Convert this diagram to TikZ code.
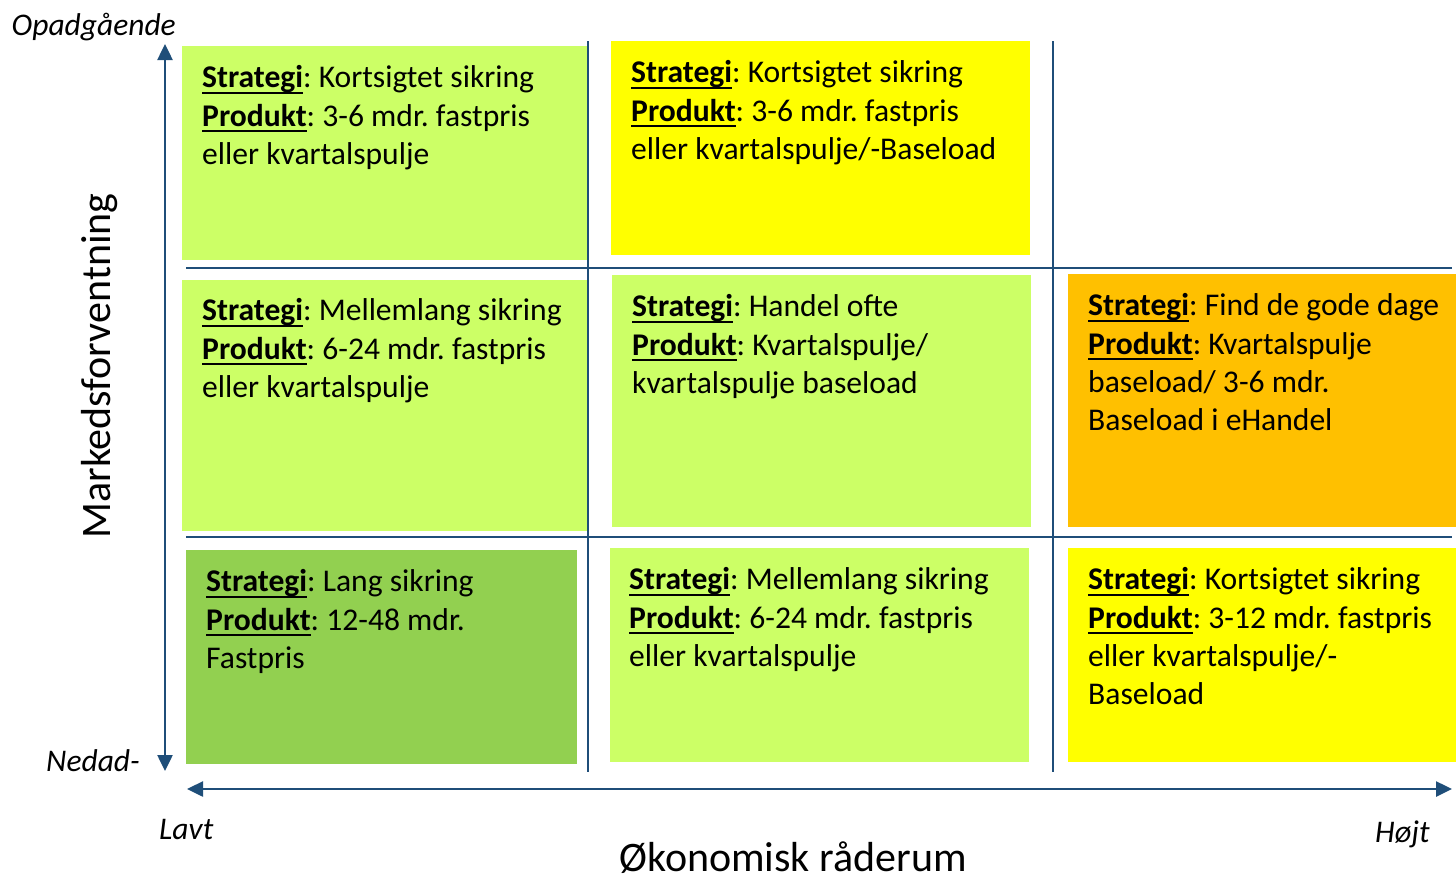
\documentclass[tikz,border=0pt]{standalone}
\usepackage{fontspec}
\setmainfont{Carlito}
\usetikzlibrary{arrows.meta}
\frenchspacing
\definecolor{lgreen}{HTML}{CCFF66}
\definecolor{dgreen}{HTML}{92D050}
\definecolor{yel}{HTML}{FFFF00}
\definecolor{ora}{HTML}{FFC000}
\definecolor{axisblue}{HTML}{1F4E79}
\newcommand{\hd}[1]{\setbox0\hbox{\textbf{#1}}\rlap{\rule[-6pt]{\wd0}{2.2pt}}\box0}
\tikzset{
  cell/.style={anchor=north west, inner sep=0pt, outer sep=0pt, draw=none},
  txt/.style={anchor=north west, inner sep=0pt, align=left,
    font=\fontsize{31.6}{38.2}\selectfont\frenchspacing, execute at begin node={\rule{0pt}{23pt}}},
  grid/.style={draw=axisblue, line width=2.5pt},
  axis/.style={draw=axisblue, line width=2.5pt,
    {Triangle[length=16pt,width=15pt]}-{Triangle[length=16pt,width=15pt]}},
  lab/.style={inner sep=0pt, font=\fontsize{31.5}{36}\selectfont\itshape},
  title/.style={inner sep=0pt, font=\fontsize{42}{50}\selectfont}
}
\begin{document}
\begin{tikzpicture}[x=1pt,y=-1pt]
\useasboundingbox (0,0) rectangle (1456,879);
% cells
\node[cell, fill=lgreen, minimum width=406pt, minimum height=214pt] (b11) at (182,46) {};
\node[cell, fill=yel,    minimum width=419pt, minimum height=214pt] (b12) at (611,41) {};
\node[cell, fill=lgreen, minimum width=406pt, minimum height=251pt] (b21) at (182,280) {};
\node[cell, fill=lgreen, minimum width=419pt, minimum height=252pt] (b22) at (612,275) {};
\node[cell, fill=ora,    minimum width=388pt, minimum height=253pt] (b23) at (1068,274) {};
\node[cell, fill=dgreen, minimum width=391pt, minimum height=214pt] (b31) at (186,550) {};
\node[cell, fill=lgreen, minimum width=419pt, minimum height=214pt] (b32) at (610,548) {};
\node[cell, fill=yel,    minimum width=388pt, minimum height=214pt] (b33) at (1068,548) {};
% grid lines
\coordinate (v1t) at (588,41);  \coordinate (v1b) at (588,772);
\coordinate (v2t) at (1053,41); \coordinate (v2b) at (1053,772);
\coordinate (h1l) at (186,268); \coordinate (h1r) at (1452,268);
\coordinate (h2l) at (186,537); \coordinate (h2r) at (1452,537);
\draw[grid] (v1t) -- (v1b);
\draw[grid] (v2t) -- (v2b);
\draw[grid] (h1l) -- (h1r);
\draw[grid] (h2l) -- (h2r);
% axes
\coordinate (yt) at (165,44);  \coordinate (yb) at (165,771);
\coordinate (xl) at (187,789); \coordinate (xr) at (1452,789);
\draw[axis] (yt) -- (yb);
\draw[axis] (xl) -- (xr);
% texts
\node[txt] (t11) at (202,65.5) {\hd{Strategi}: Kortsigtet sikring\\\hd{Produkt}: 3-6 mdr. fastpris\\eller kvartalspulje};
\node[txt] (t12) at (631,60.5) {\hd{Strategi}: Kortsigtet sikring\\\hd{Produkt}: 3-6 mdr. fastpris\\eller kvartalspulje/-Baseload};
\node[txt] (t21) at (202,298.5) {\hd{Strategi}: Mellemlang sikring\\\hd{Produkt}: 6-24 mdr. fastpris\\eller kvartalspulje};
\node[txt] (t22) at (632,294.5) {\hd{Strategi}: Handel ofte\\\hd{Produkt}: Kvartalspulje/\\kvartalspulje baseload};
\node[txt] (t23) at (1088,293.5) {\hd{Strategi}: Find de gode dage\\\hd{Produkt}: Kvartalspulje\\baseload/ 3-6 mdr.\\Baseload i eHandel};
\node[txt] (t31) at (206,569.5) {\hd{Strategi}: Lang sikring\\\hd{Produkt}: 12-48 mdr.\\Fastpris};
\node[txt] (t32) at (629,567.5) {\hd{Strategi}: Mellemlang sikring\\\hd{Produkt}: 6-24 mdr. fastpris\\eller kvartalspulje};
\node[txt] (t33) at (1088,567.5) {\hd{Strategi}: Kortsigtet sikring\\\hd{Produkt}: 3-12 mdr. fastpris\\eller kvartalspulje/-\\Baseload};
% labels
\node[lab, anchor=base east] (lop) at (176,35) {Opadgående};
\node[lab, anchor=base east] (lned) at (140,771) {Nedad-};
\node[lab, anchor=base west] (llav) at (159,839) {Lavt};
\node[lab, anchor=base west] (lhoj) at (1375,842) {Højt};
\node[title, anchor=base] (tx) at (793,871) {Økonomisk råderum};
\node[title, anchor=base, rotate=90] (ty) at (110,366) {Markedsforventning};
\end{tikzpicture}
\end{document}
